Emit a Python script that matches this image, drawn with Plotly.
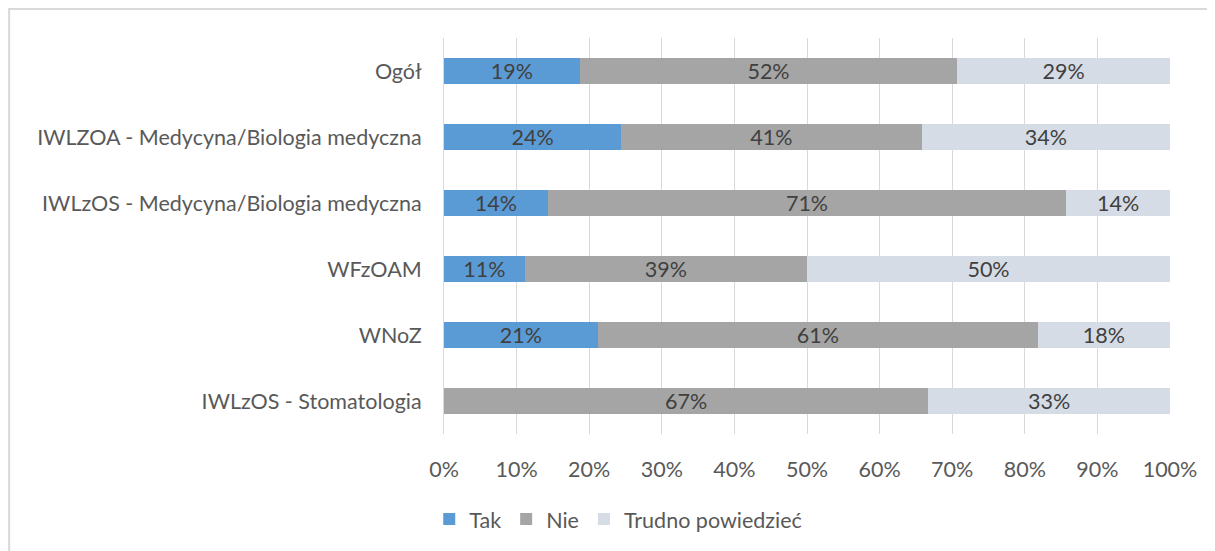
import plotly.graph_objects as go

categories = [
    "Ogół",
    "IWLZOA - Medycyna/Biologia medyczna",
    "IWLzOS - Medycyna/Biologia medyczna",
    "WFzOAM",
    "WNoZ",
    "IWLzOS - Stomatologia",
]
tak = [18.7, 24.4, 14.3, 11.1, 21.2, 0.0]
nie = [52.0, 41.4, 71.4, 38.9, 60.6, 66.7]
trudno = [29.3, 34.2, 14.3, 50.0, 18.2, 33.3]
series_names = ["Tak", "Nie", "Trudno powiedzieć"]
colors = ["#5B9BD5", "#A5A5A5", "#D6DCE5"]

FONT = "Lato"
FS = 21.5
fig = go.Figure()
for name, vals, col in zip(series_names, [tak, nie, trudno], colors):
    texts = [f"{round(v):.0f}%" if v > 0 else "" for v in vals]
    fig.add_trace(go.Bar(
        y=categories, x=[v / 100 for v in vals], name=name, orientation="h",
        marker=dict(color=col, line=dict(width=0)),
        text=texts, textposition="inside", insidetextanchor="middle",
        textfont=dict(family=FONT, size=FS, color="#404040"),
        textangle=0, constraintext="none", hoverinfo="x+y",
    ))

fig.update_layout(
    barmode="stack", bargap=0.6,
    width=1215, height=551,
    margin=dict(l=436, r=53, t=30, b=125),
    paper_bgcolor="white", plot_bgcolor="white",
    font=dict(family=FONT, size=FS, color="#595959"),
    legend=dict(orientation="h", x=0.24, xanchor="center", y=-0.215, yanchor="middle",
                font=dict(family=FONT, size=FS, color="#595959"), traceorder="normal",
                itemwidth=30),
    xaxis=dict(range=[0, 1], tickvals=[i / 10 for i in range(11)], tickformat=".0%",
               showgrid=True, gridcolor="#D9D9D9", gridwidth=1, zeroline=False,
               showline=False, ticks="", ticklabelstandoff=20, fixedrange=True),
    yaxis=dict(autorange="reversed", showgrid=False, zeroline=False, showline=True,
               linecolor="#D9D9D9", linewidth=1, ticks="", ticklabelstandoff=17),
    shapes=[dict(type="rect", xref="paper", yref="paper",
                 x0=-0.599, x1=1.069, y0=-0.318, y1=1.0732,
                 line=dict(color="#D9D9D9", width=2), layer="below")],
)
fig.write_html("out.html")
